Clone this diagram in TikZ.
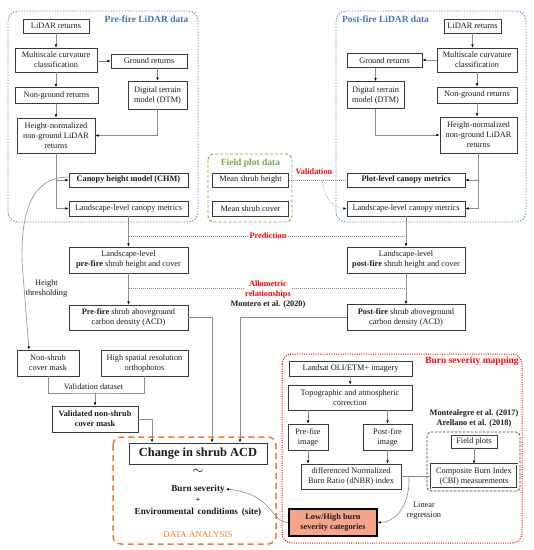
\documentclass[tikz,border=0pt]{standalone}
\usepackage{fontspec}
\setmainfont{Liberation Serif}
\usetikzlibrary{arrows.meta,calc}
\definecolor{boxc}{HTML}{3A3A3A}
\definecolor{linec}{HTML}{8C8C8C}
\definecolor{txtc}{HTML}{1A1A1A}
\definecolor{blueC}{HTML}{4472C4}
\definecolor{blueD}{HTML}{5B8BD9}
\definecolor{greenC}{HTML}{70AD47}
\definecolor{redC}{HTML}{FF0000}
\definecolor{orangeC}{HTML}{ED7D31}
\definecolor{salmonC}{HTML}{F6A48A}
\begin{document}
\begin{tikzpicture}[x=1pt,y=-1pt,
  bx/.style={draw=boxc, line width=0.7pt, fill=white, align=center, inner sep=1pt, text=txtc, font=\fontsize{8.3}{10}\selectfont},
  wh/.style 2 args={minimum width=#1pt, minimum height=#2pt},
  ln/.style={draw=linec, line width=0.6pt},
  arr/.style={ln, -{Latex[length=3.2pt,width=2.6pt,color=black]}},
  dotln/.style={draw=linec, line width=0.6pt, dash pattern=on 0.8pt off 1.2pt},
  ttl/.style={font=\fontsize{9.5}{11}\selectfont\bfseries, inner sep=0pt},
  lbl/.style={font=\fontsize{8.3}{10}\selectfont, text=txtc, align=center, inner sep=1pt},
  rlbl/.style={font=\fontsize{8.3}{10}\selectfont\bfseries, text=redC, align=center, inner sep=1pt},
  blbl/.style={font=\fontsize{8.3}{10}\selectfont\bfseries, text=txtc, align=center, inner sep=1pt}
]
\useasboundingbox (0,0) rectangle (534,550);
\fill[white] (0,0) rectangle (534,550);

% group frames
\draw[blueD, line width=0.9pt, dash pattern=on 1.4pt off 1.4pt, rounded corners=10pt] (8,11) rectangle (198,222);
\draw[blueD, line width=0.9pt, dash pattern=on 1.4pt off 1.4pt, rounded corners=10pt] (336,11) rectangle (526,222);
\draw[greenC, line width=0.9pt, dash pattern=on 3pt off 2pt, rounded corners=6pt] (208,154) rectangle (292,222);
\draw[redC, line width=1pt, dash pattern=on 1pt off 1.3pt, rounded corners=10pt] (282,354) rectangle (522,543);
\draw[orangeC, line width=1.5pt, dash pattern=on 6pt off 4pt, rounded corners=8pt] (113,437) rectangle (276,544);
\draw[boxc, line width=0.8pt, dash pattern=on 2.5pt off 1.5pt, rounded corners=4pt] (427,432) rectangle (520,491);

% titles
\node[ttl, text=blueC] (preT) at (146.5,19.5) {Pre-fire LiDAR data};
\node[ttl, text=blueC] (postT) at (385.5,19.5) {Post-fire LiDAR data};
\node[ttl, text=greenC] (fieldT) at (250.5,163) {Field plot data};
\node[ttl, text=redC] (burnT) at (472,361) {Burn severity mapping};
\node[font=\fontsize{9}{11}\selectfont, text=orangeC, inner sep=0pt] (daT) at (198,535) {DATA ANALYSIS};

% pre-fire boxes
\node[bx, wh={66}{14}] (pLiDAR) at (56,26) {LiDAR returns};
\node[bx, wh={82}{24}] (pMulti) at (56,60) {Multiscale curvature\\classification};
\node[bx, wh={76}{14}] (pGround) at (149,61) {Ground returns};
\node[bx, wh={83}{16}] (pNonG) at (56.5,95.5) {Non-ground returns};
\node[bx, wh={59}{28}] (pDTM) at (157.5,95) {Digital terrain\\model (DTM)};
\node[bx, wh={78}{35}] (pHN) at (56,135.5) {Height-normalized\\non-ground LiDAR\\returns};
\node[bx, wh={119}{14}, font=\fontsize{8.3}{10}\selectfont\bfseries] (pCHM) at (128.5,180) {Canopy height model (CHM)};
\node[bx, wh={119}{15}] (pLCM) at (128.5,208.5) {Landscape-level canopy metrics};

% field
\node[bx, wh={76}{14}] (fHeight) at (250.5,180) {Mean shrub height};
\node[bx, wh={76}{15}] (fCover) at (250.5,208.5) {Mean shrub cover};

% post-fire boxes
\node[bx, wh={57}{14}] (qLiDAR) at (472.5,26) {LiDAR returns};
\node[bx, wh={80}{24}] (qMulti) at (477,60) {Multiscale curvature\\classification};
\node[bx, wh={75}{14}] (qGround) at (384.5,60.5) {Ground returns};
\node[bx, wh={57}{27}] (qDTM) at (375.5,95) {Digital terrain\\model (DTM)};
\node[bx, wh={80}{16}] (qNonG) at (477,95) {Non-ground returns};
\node[bx, wh={77}{36}] (qHN) at (478.5,135) {Height-normalized\\non-ground LiDAR\\returns};
\node[bx, wh={118}{14}, font=\fontsize{8.3}{10}\selectfont\bfseries] (qPlot) at (406,180) {Plot-level canopy metrics};
\node[bx, wh={118}{15}] (qLCM) at (406,208.5) {Landscape-level canopy metrics};

% middle
\node[bx, wh={119}{26}] (pLand) at (128.5,260) {Landscape-level\\\textbf{pre-fire} shrub height and cover};
\node[bx, wh={118}{26}] (qLand) at (406,260) {Landscape-level\\\textbf{post-fire} shrub height and cover};
\node[bx, wh={119}{25}] (pACD) at (128.5,317.5) {\textbf{Pre-fire} shrub aboveground\\carbon density (ACD)};
\node[bx, wh={118}{26}] (qACD) at (406,317.5) {\textbf{Post-fire} shrub aboveground\\carbon density (ACD)};
\node[bx, wh={62}{26}] (nonShrub) at (48,363) {Non-shrub\\cover mask};
\node[bx, wh={87}{26}] (ortho) at (144.5,363) {High spatial resolution\\orthophotos};
\node[bx, wh={86}{26}, font=\fontsize{8.3}{10}\selectfont\bfseries] (valid) at (95,419) {Validated non-shrub\\cover mask};
\node[bx, wh={138}{21}, line width=1pt, font=\fontsize{12.4}{14}\selectfont\bfseries] (change) at (198,453.5) {Change in shrub ACD};

% data analysis text
\node[inner sep=0pt, text=txtc] (tilde) at (198,472) {\fontsize{14}{14}\selectfont$\sim$};
\node[font=\fontsize{9.2}{11}\selectfont\bfseries, text=txtc, inner sep=1pt] (burnsev) at (198,489) {Burn severity};
\node[font=\fontsize{8.3}{10}\selectfont\bfseries, text=txtc, inner sep=0pt] (plus) at (198,500) {+};
\node[font=\fontsize{9.2}{11}\selectfont\bfseries, text=txtc, inner sep=0pt] (env) at (198,512) {Environmental\, conditions\, (site)};

% burn severity boxes
\node[bx, wh={123}{15}] (landsat) at (350.5,368.5) {Landsat OLI/ETM+ imagery};
\node[bx, wh={124}{25}] (topo) at (350,397.5) {Topographic and atmospheric\\correction};
\node[bx, wh={40}{26}] (preImg) at (308,437) {Pre-fire\\image};
\node[bx, wh={49}{26}] (postImg) at (387.5,437) {Post-fire\\image};
\node[bx, wh={100}{25}] (dNBR) at (351,476.5) {differenced Normalized\\Burn Ratio (dNBR) index};
\node[bx, wh={88}{27}, fill=salmonC, draw=black, line width=1.5pt, font=\fontsize{8.3}{10}\selectfont\bfseries] (lowHigh) at (333,522.5) {Low/High burn\\severity categories};
\node[bx, wh={46}{13}] (fieldPlots) at (474,441.5) {Field plots};
\node[bx, wh={86}{24}, double, double distance=0.8pt, line width=0.5pt] (CBI) at (474,476) {Composite Burn Index\\(CBI) measurements};

% labels
\node[rlbl] (valT) at (314,172) {Validation};
\node[rlbl] (predT) at (268,236) {Prediction};
\node[rlbl] (alloT) at (268,289) {Allometric\\relationships};
\node[blbl] (monT) at (268,304) {Montero et al. (2020)};
\node[lbl] (htT) at (46.5,289) {Height\\thresholding};
\node[lbl, inner sep=0pt] (vdT) at (93.5,387) {Validation dataset};
\node[lbl] (lrT) at (424,511) {Linear\\regression};
\node[blbl] (refT) at (474,418) {Montealegre et al. (2017)\\Arellano et al. (2018)};

% coordinates
\coordinate (vd) at (95,393);
\coordinate (pPred) at (128.5,236);
\coordinate (qPred) at (406,236);
\coordinate (pAllo) at (128.5,288);
\coordinate (qAllo) at (406,288);
\coordinate (vsplit) at (322,180);
\coordinate (lrs) at (409,477);

% pre-fire connectors
\draw[arr] (pLiDAR) -- (pMulti);
\draw[arr] (pMulti.east |- pGround.west) -- (pGround.west);
\draw[arr] (pDTM.north |- pGround.south) -- (pDTM.north);
\draw[arr] (pMulti) -- (pNonG.north -| pMulti.south);
\draw[arr] (pNonG.south -| pHN.north) -- (pHN.north);
\draw[arr] (pDTM.south) |- (pHN.east);
\draw[arr] (pHN.south) |- (pLCM.west);
\draw[arr] (pHN.south |- pCHM.west) -- (pCHM.west);
\draw[arr] (pLCM) -- (pLand);
\draw[arr] (pLand) -- (pACD);

% post-fire connectors
\draw[arr] (qLiDAR.south) -- (qLiDAR.south |- qMulti.north);
\draw[arr] (qMulti.west) -- (qMulti.west -| qGround.east);
\draw[arr] (qDTM.north |- qGround.south) -- (qDTM.north);
\draw[arr] (qMulti) -- (qNonG);
\draw[arr] (qNonG.south) -- (qNonG.south |- qHN.north);
\draw[arr] (qDTM.south) |- (qHN.west);
\draw[arr] (qHN.south) |- (qLCM.east);
\draw[arr] (qHN.south |- qPlot.east) -- (qPlot.east);
\draw[arr] (qLCM) -- (qLand);
\draw[arr] (qLand) -- (qACD);

% validation / prediction / allometric
\draw[dotln] (fHeight.east) -- (qPlot.west);
\draw[dotln, -{Latex[length=3.2pt,width=2.6pt,color=black]}] (vsplit) .. controls (325,200) and (334,208.5) .. (qLCM.west);
\draw[dotln] (pPred) -- (predT.west);
\draw[dotln] (predT.east) -- (qPred);
\draw[dotln] (pAllo) -- (pAllo -| alloT.west);
\draw[dotln] (qAllo -| alloT.east) -- (qAllo);

% to change in ACD
\draw[arr] (pACD.east) -| ([xshift=14pt]change.north);
\draw[arr] (qACD.west) -| ([xshift=42pt]change.north);
\draw[arr] (valid.east) -| ([xshift=-46pt]change.north);

% height thresholding
\draw[arr] ([yshift=3pt]pCHM.west) .. controls (30,177) and (21,215) .. (22,262) -- ([xshift=-19pt]nonShrub.north);
\draw[ln] (nonShrub.south) |- (vd) -| (ortho.south);
\draw[arr] (vd) -- (valid.north);

% burn severity connectors
\draw[arr] (landsat) -- (topo);
\draw[arr] (preImg.north |- topo.south) -- (preImg.north);
\draw[arr] (postImg.north |- topo.south) -- (postImg.north);
\draw[arr] (preImg.south) -- (preImg.south |- dNBR.north);
\draw[arr] (postImg.south) -- (postImg.south |- dNBR.north);
\draw[ln] (dNBR.east |- CBI.west) -- (CBI.west);
\draw[arr] (fieldPlots) -- (CBI);
\draw[arr] (lrs) .. controls (410,505) and (396,522) .. (lowHigh.east);
\draw[arr] (lowHigh.west) .. controls (270,522) and (274,494) .. (burnsev.east);
\end{tikzpicture}
\end{document}
